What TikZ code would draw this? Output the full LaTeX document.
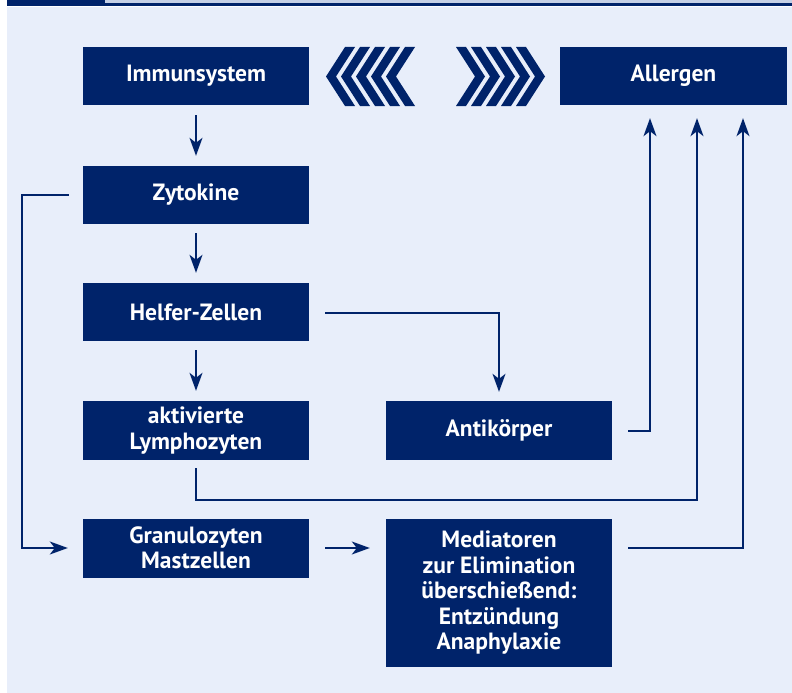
\documentclass[tikz,border=0pt]{standalone}
\usepackage{fontspec}
\setmainfont{PT Sans}
\usetikzlibrary{arrows.meta,calc}
\definecolor{navy}{HTML}{00236A}
\definecolor{bgblue}{HTML}{E8EEFA}
\definecolor{band}{HTML}{C5D0E6}
\tikzset{
  box/.style={fill=navy, text=white, font=\bfseries\fontsize{23.5}{25.5}\selectfont,
    inner sep=0pt, minimum width=226pt, minimum height=58pt, align=center},
  arr/.style={draw=navy, line width=1.4pt,
    -{Stealth[length=18pt,width=13pt,inset=5pt]}},
  chev/.style={fill=navy, draw=none}
}
\begin{document}
\begin{tikzpicture}[x=1pt,y=-1pt]
\useasboundingbox (0,0) rectangle (792,693);
\fill[white] (0,0) rectangle (792,693);
\fill[bgblue] (7,7) rectangle (792,693);
\fill[band] (105,0) rectangle (792,3.5);
\fill[navy] (7,0) rectangle (105,6);
\fill[navy] (105,3.5) rectangle (792,6);
% boxes
\node[box] (imm) at (196,76) {Immunsystem};
\node[box, minimum width=227pt] (all) at (673.5,76) {Allergen};
\node[box] (zyt) at (196,195) {Zytokine};
\node[box] (hel) at (196,312) {Helfer-Zellen};
\node[box, minimum height=59pt] (akt) at (196,430.5) {aktivierte\\Lymphozyten};
\node[box, minimum height=59pt] (ant) at (499,430.5) {Antikörper};
\node[box, minimum height=59pt] (gra) at (196,548) {Granulozyten\\Mastzellen};
\node[box, minimum height=148pt] (med) at (499,593) {Mediatoren\\zur Elimination\\überschießend:\\Entzündung\\Anaphylaxie};
% chevrons
\foreach \t in {326,341,356,371,386}{
  \fill[chev] (\t,76.5) -- (\t+19,47) -- (\t+29,47) -- (\t+10,76.5) -- (\t+29,106) -- (\t+19,106) -- cycle;
}
\foreach \t in {545,530,515,500,485}{
  \fill[chev] (\t,76.5) -- (\t-19,47) -- (\t-29,47) -- (\t-10,76.5) -- (\t-29,106) -- (\t-19,106) -- cycle;
}
% connectors
\draw[arr, shorten <=10pt, shorten >=10pt] (imm.south) -- (zyt.north);
\draw[arr, shorten <=9pt, shorten >=10pt] (zyt.south) -- (hel.north);
\draw[arr, shorten <=9pt, shorten >=10pt] (hel.south) -- (akt.north);
\coordinate (h1) at (499,313);
\draw[arr, shorten >=9pt] ($(hel.east)+(16,1)$) -- (h1) -- (ant.north);
\coordinate (a1) at (650,431);
\draw[arr] ($(ant.east)+(16,0.5)$) -- (a1) -- ($(all.south)+(-23.5,13)$);
\coordinate (l1) at (196,500);
\coordinate (l2) at (697,500);
\draw[arr] ($(akt.south)+(0,8)$) -- (l1) -- (l2) -- ($(all.south)+(23.5,13)$);
\coordinate (m1) at (743,548);
\draw[arr] ($(med.east|-gra.east)+(16,0)$) -- (m1) -- ($(all.south)+(69.5,13)$);
\coordinate (z1) at (22,195);
\coordinate (z2) at (22,548);
\draw[arr, shorten >=15pt] ($(zyt.west)+(-14,0)$) -- (z1) -- (z2) -- (gra.west|-z2);
\draw[arr] ($(gra.east)+(16,0)$) -- ($(med.west|-gra.east)+(-16,0)$);
\end{tikzpicture}
\end{document}
